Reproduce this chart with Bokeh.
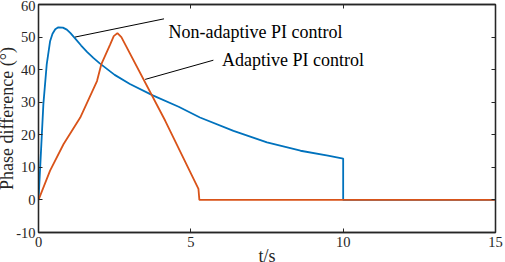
from bokeh.plotting import figure
from bokeh.models import Range1d, FixedTicker, LinearAxis, Label, GlobalInlineStyleSheet
from bokeh.embed import file_html
from bokeh.resources import INLINE

# ---- data ----
t_nonadaptive = [0, 0.055, 0.16, 0.27, 0.38, 0.46, 0.55, 0.65, 0.8, 0.93, 1.05, 1.2, 1.4,
                 1.6, 1.8, 2.0, 2.5, 3.0, 3.75, 4.6, 5.3, 6.4, 7.5, 8.6, 9.5, 10.0, 10.0, 15.0]
v_nonadaptive = [0, 10, 29.4, 41.6, 48.7, 51.0, 52.4, 53.0, 52.9, 52.3, 51.2, 49.6, 47.4,
                 45.4, 43.6, 42.0, 38.4, 35.6, 32.1, 28.6, 25.3, 21.2, 17.7, 15.1, 13.6, 12.7, 0, 0]

t_adaptive = [0, 0.38, 0.82, 1.37, 1.92, 2.06, 2.35, 2.47, 2.59, 2.72, 4.16, 5.25, 5.28, 15.0]
v_adaptive = [0, 9.0, 17.1, 25.3, 36.5, 41.6, 47.7, 50.3, 51.2, 50.0, 24.3, 3.4, 0, 0]

x_ticks = [0, 5, 10, 15]
y_ticks = [-10, 0, 10, 20, 30, 40, 50, 60]

label_nonadaptive = "Non-adaptive PI control"
label_adaptive = "Adaptive PI control"
# leader lines (data coords): start on curve -> end near text
lead_nonadaptive_x = [1.20, 4.12]
lead_nonadaptive_y = [50.0, 55.6]
lead_adaptive_x = [3.50, 5.74]
lead_adaptive_y = [37.0, 42.9]
text_nonadaptive_pos = (4.27, 51.7)
text_adaptive_pos = (6.02, 42.9)

ylabel = "Phase difference (°)"
xlabel = "t/s"

FONT = "Liberation Serif"
BLUE = "#0072BD"
ORANGE = "#D95319"

p = figure(width=513, height=270, output_backend="svg", toolbar_location=None,
           x_range=Range1d(0, 15), y_range=Range1d(-10, 60),
           min_border_left=46, min_border_right=10, min_border_top=4, min_border_bottom=38,
           x_axis_type=None, y_axis_type=None)
p.stylesheets = [GlobalInlineStyleSheet(css="html, body { margin: 0; padding: 0; overflow: hidden; }")]
p.styles = {"margin-left": "-8px"}
p.grid.visible = False
p.outline_line_color = "#262626"
p.outline_line_width = 1.3
p.background_fill_color = "white"
p.border_fill_color = "white"


def make_axis(ticks, show_labels):
    ax = LinearAxis(ticker=FixedTicker(ticks=ticks))
    ax.axis_line_color = "#262626"
    ax.axis_line_width = 1.3
    ax.major_tick_in = 4
    ax.major_tick_out = 0
    ax.minor_tick_line_color = None
    ax.major_tick_line_color = "#262626"
    ax.major_tick_line_width = 1
    ax.major_label_text_font = FONT
    ax.major_label_text_font_size = "14.5px"
    ax.major_label_text_color = "#262626"
    ax.axis_label_text_font = FONT
    ax.axis_label_text_font_size = "18px"
    ax.axis_label_text_font_style = "normal"
    ax.axis_label_text_color = "#262626"
    if show_labels:
        ax.major_label_overrides = {t: ("-" + str(-t) if t < 0 else str(t)) for t in ticks}
    else:
        ax.major_label_overrides = {t: "" for t in ticks}
        ax.major_label_standoff = 0
    return ax


xb = make_axis(x_ticks, True)
xb.major_label_standoff = 4
xb.axis_label = xlabel
xb.axis_label_standoff = -4
p.add_layout(xb, "below")
yl = make_axis(y_ticks, True)
yl.major_label_standoff = 3
yl.axis_label = ylabel
yl.axis_label_standoff = -4
p.add_layout(yl, "left")
p.add_layout(make_axis(x_ticks, False), "above")
p.add_layout(make_axis(y_ticks, False), "right")

p.line(t_nonadaptive, v_nonadaptive, line_color=BLUE, line_width=1.8)
p.line(t_adaptive, v_adaptive, line_color=ORANGE, line_width=1.8)

p.line(lead_nonadaptive_x, lead_nonadaptive_y, line_color="black", line_width=1)
p.line(lead_adaptive_x, lead_adaptive_y, line_color="black", line_width=1)

p.add_layout(Label(x=text_nonadaptive_pos[0], y=text_nonadaptive_pos[1], text=label_nonadaptive,
                   text_font=FONT, text_font_size="18px", text_color="black",
                   text_align="left", text_baseline="alphabetic"))
p.add_layout(Label(x=text_adaptive_pos[0], y=text_adaptive_pos[1], text=label_adaptive,
                   text_font=FONT, text_font_size="18px", text_color="black",
                   text_align="left", text_baseline="alphabetic"))

open("out.html", "w").write(file_html(p, INLINE))
